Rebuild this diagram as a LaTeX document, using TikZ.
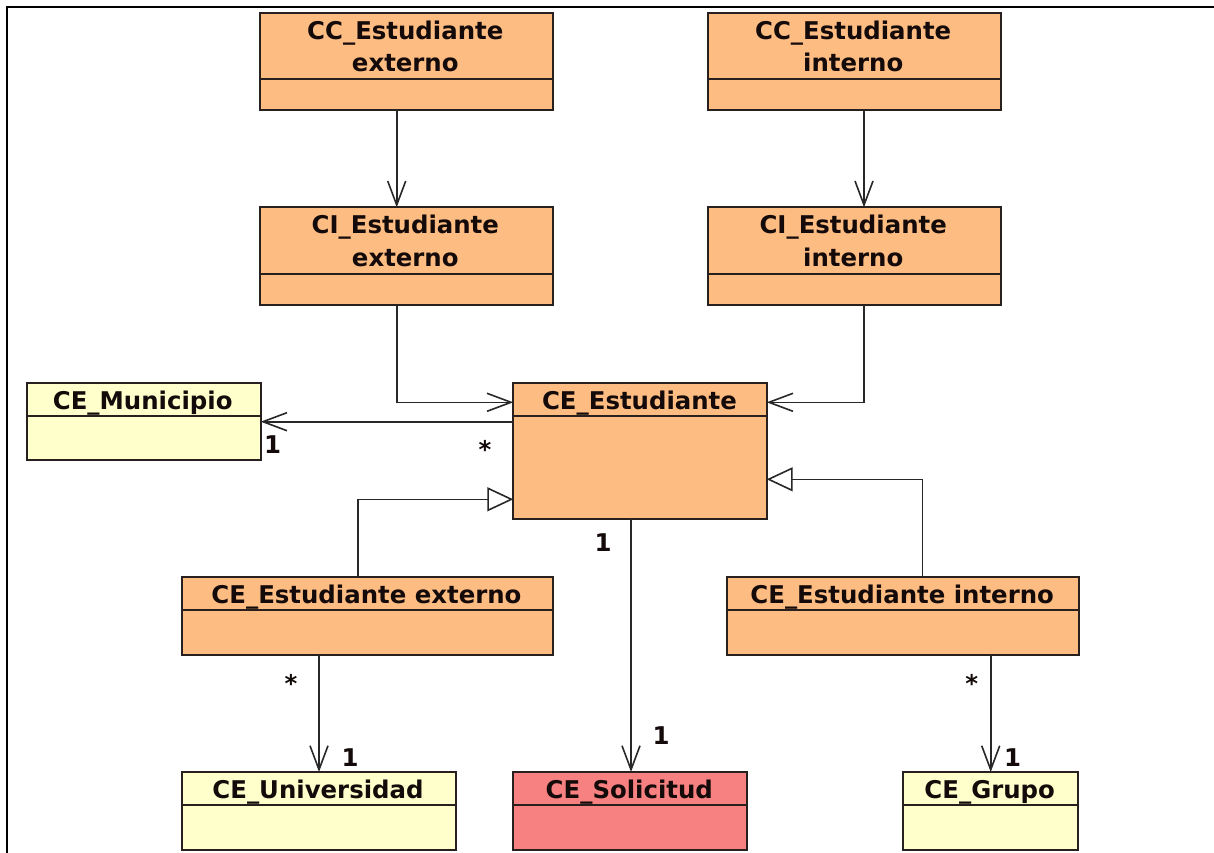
\documentclass[tikz,border=0pt]{standalone}
\usepackage{fontspec}
\setmainfont{DejaVu Sans}
\usetikzlibrary{arrows.meta}

\definecolor{clsorange}{RGB}{253,188,130}
\definecolor{clsyellow}{RGB}{255,255,204}
\definecolor{clsred}{RGB}{247,128,128}
\definecolor{boxline}{RGB}{40,32,30}
\definecolor{linecol}{RGB}{40,40,40}
\definecolor{textcol}{RGB}{20,10,10}

% class box: id, x1, y1, x2, y of compartment divider, y2, fill colour
\newcommand\umlclass[7]{%
  \node[box, fill=#7, minimum width={(#4-#2)*1pt}, minimum height={(#6-#3)*1pt}]
    (#1) at (#2,#3) {};
  \draw[boxline, line width=1.8pt] (#2,#5) -- (#4,#5);
}

\begin{document}
\begin{tikzpicture}[x=1pt,y=-1pt,
  box/.style={draw=boxline, line width=1.8pt, inner sep=0pt, outer sep=0pt, anchor=north west},
  title/.style={font=\fontsize{24.4}{30}\selectfont\bfseries, inner sep=0pt, anchor=base, text=textcol},
  mult/.style={title},
  link/.style={draw=linecol, line width=1.6pt},
  nav/.style={link, -{Straight Barb[length=24pt,width=18pt]}},
  gen/.style={link, -{Triangle[open,length=26pt,width=24pt,fill=white]}},
]
\useasboundingbox (0,0) rectangle (1214,853);

% sheet border
\draw[black, line width=2.2pt] (1214,7.3) -- (6.7,7.3) -- (6.7,853);

% classes
\umlclass{ccext}{260}{12.7}{552.7}{79}{110}{clsorange}
\umlclass{ccint}{707.7}{12.7}{1000.7}{79}{110}{clsorange}
\umlclass{ciext}{260}{207.3}{552.7}{274}{304.7}{clsorange}
\umlclass{ciint}{707.7}{207.3}{1000.7}{274}{304.7}{clsorange}
\umlclass{muni}{26.7}{382.7}{260.7}{416}{460.3}{clsyellow}
\umlclass{ceest}{513.3}{382.7}{766.7}{416}{518.7}{clsorange}
\umlclass{estext}{182.3}{577}{552.7}{610}{655.3}{clsorange}
\umlclass{estint}{727.3}{577}{1079}{610}{655.3}{clsorange}
\umlclass{univ}{182.3}{772}{455.7}{805.3}{850}{clsyellow}
\umlclass{soli}{513.3}{772}{747.3}{805.3}{850}{clsred}
\umlclass{grupo}{903}{772}{1078.3}{805.3}{850}{clsyellow}

% class names
\node[title] (ccext-a) at (405.3,39.3) {CC\_Estudiante};
\node[title] (ccext-b) at (405.3,71.7) {externo};
\node[title] (ccint-a) at (853.2,39.3) {CC\_Estudiante};
\node[title] (ccint-b) at (853.2,71.7) {interno};
\node[title] (ciext-a) at (405.3,233.9) {CI\_Estudiante};
\node[title] (ciext-b) at (405.3,266.7) {externo};
\node[title] (ciint-a) at (853.2,233.9) {CI\_Estudiante};
\node[title] (ciint-b) at (853.2,266.7) {interno};
\node[title] (muni-a) at (142.7,409.5) {CE\_Municipio};
\node[title] (ceest-a) at (639.5,409.5) {CE\_Estudiante};
\node[title] (estext-a) at (366.5,603.5) {CE\_Estudiante externo};
\node[title] (estint-a) at (902.2,603.5) {CE\_Estudiante interno};
\node[title] (univ-a) at (318,798.8) {CE\_Universidad};
\node[title] (soli-a) at (629.3,798.8) {CE\_Solicitud};
\node[title] (grupo-a) at (989.7,798.8) {CE\_Grupo};

% connector lanes
\coordinate (vA) at (396.7,0);
\coordinate (vB) at (864,0);
\coordinate (vC) at (357.7,0);
\coordinate (vD) at (922.3,0);
\coordinate (vE) at (631,0);
\coordinate (vF) at (319,0);
\coordinate (vG) at (990.7,0);
\coordinate (hA) at (0,402.3);
\coordinate (hB) at (0,421.7);
\coordinate (hC) at (0,499.3);
\coordinate (hD) at (0,479.3);

% navigable associations
\draw[nav] (ccext.south -| vA) -- (ciext.north -| vA);
\draw[nav] (ccint.south -| vB) -- (ciint.north -| vB);
\draw[nav] (ciext.south -| vA) |- (ceest.west |- hA);
\draw[nav] (ciint.south -| vB) |- (ceest.east |- hA);
\draw[nav] (ceest.west |- hB) -- (muni.east |- hB);
\draw[nav] (ceest.south -| vE) -- (soli.north -| vE);
\draw[nav] (estext.south -| vF) -- (univ.north -| vF);
\draw[nav] (estint.south -| vG) -- (grupo.north -| vG);

% generalizations
\draw[gen] (estext.north -| vC) |- (ceest.west |- hC);
\draw[gen] (estint.north -| vD) |- (ceest.east |- hD);

% multiplicities
\node[mult] (m1) at (272.5,453) {1};
\node[mult] (m2) at (485,458.4) {*};
\node[mult] (m3) at (603,551) {1};
\node[mult] (m4) at (661,744.3) {1};
\node[mult] (m5) at (291,692) {*};
\node[mult] (m6) at (350,766) {1};
\node[mult] (m7) at (971.7,692) {*};
\node[mult] (m8) at (1012.5,766) {1};
\end{tikzpicture}
\end{document}
